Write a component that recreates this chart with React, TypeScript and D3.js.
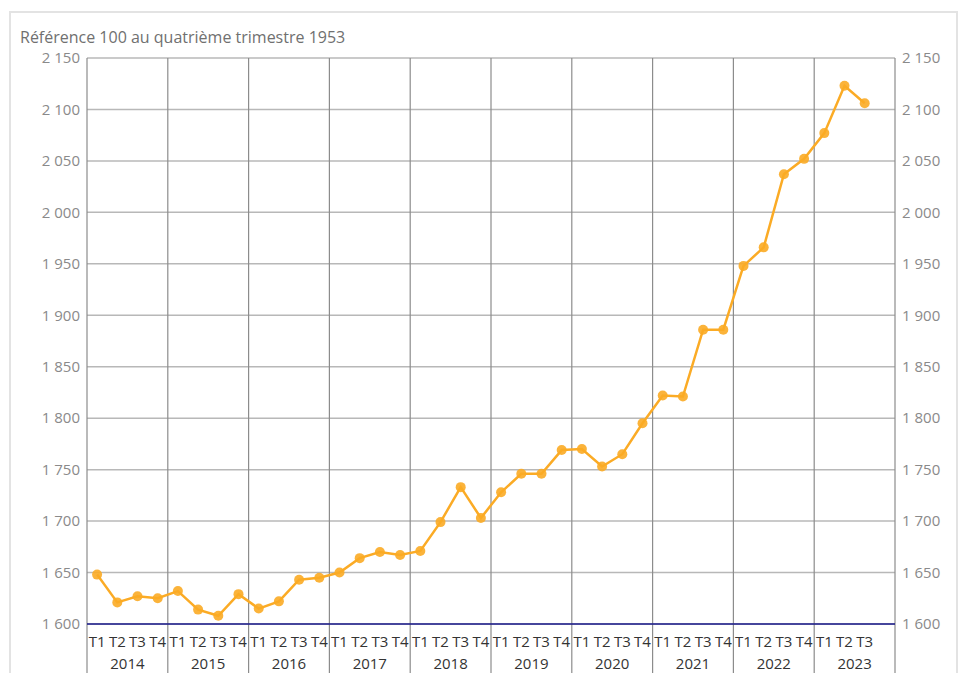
import React from 'react';
import * as d3 from 'd3';

// Data: ICC, base 100 at Q4 1953
const years = ['2014', '2015', '2016', '2017', '2018', '2019', '2020', '2021', '2022', '2023'];
const quarters = ['T1', 'T2', 'T3', 'T4'];
const values = [
  1648, 1621, 1627, 1625,
  1632, 1614, 1608, 1629,
  1615, 1622, 1643, 1645,
  1650, 1664, 1670, 1667,
  1671, 1699, 1733, 1703,
  1728, 1746, 1746, 1769,
  1770, 1753, 1765, 1795,
  1822, 1821, 1886, 1886,
  1948, 1966, 2037, 2052,
  2077, 2123, 2106,
];
const yTicks = [1600, 1650, 1700, 1750, 1800, 1850, 1900, 1950, 2000, 2050, 2100, 2150];
const title = 'Référence 100 au quatrième trimestre 1953';

const width = 959;
const height = 673;
const margin = { top: 58, right: 64, bottom: 49, left: 87 };
const font = '"Open Sans", "Noto Sans", sans-serif';
const lineColor = '#fbab25';

const fmt = (v: number) => d3.format(',')(v).replace(',', ' ');

const App: React.FC = () => {
  const slots = years.flatMap((yr) => quarters.map((q) => `${yr}-${q}`));
  const x = d3.scaleBand<string>()
    .domain(slots)
    .range([margin.left, width - margin.right]);
  const y = d3.scaleLinear()
    .domain([1600, 2150])
    .range([height - margin.bottom, margin.top]);

  const pts = values.map((v, i) => ({ key: slots[i], v }));
  const line = d3.line<{ key: string; v: number }>()
    .x((d) => (x(d.key) ?? 0) + x.bandwidth() / 2)
    .y((d) => y(d.v));

  const plotRight = width - margin.right;
  const plotBottom = height - margin.bottom;
  const yearW = x.bandwidth() * 4;

  return (
    <svg
      width={width}
      height={height}
      style={{ position: 'absolute', left: 0, top: 0 }}
      fontFamily={font}
    >
      <rect x={10} y={12} width={947} height={700} fill="#fff" stroke="#e3e3e3" strokeWidth={2} />
      <text x={20} y={43} fontSize={16} fill="#707070">{title}</text>

      {/* horizontal grid */}
      {yTicks.map((t) => (
        <g key={t}>
          <line x1={margin.left} x2={plotRight} y1={y(t)} y2={y(t)} stroke="#b8b8b8" strokeWidth={1.5} />
          <text x={80} y={y(t)} dy="0.35em" textAnchor="end" fontSize={15} fill="#8a8a8a">{fmt(t)}</text>
          <text x={902} y={y(t)} dy="0.35em" textAnchor="start" fontSize={15} fill="#8a8a8a">{fmt(t)}</text>
        </g>
      ))}

      {/* year separators */}
      {years.map((yr, i) => {
        const x0 = margin.left + i * yearW;
        return (
          <g key={yr}>
            <line x1={x0} x2={x0} y1={margin.top} y2={height} stroke="#8c8c8c" strokeWidth={1.2} />
            <text x={x0 + yearW / 2} y={669} textAnchor="middle" fontSize={15} fill="#333">{yr}</text>
          </g>
        );
      })}
      <line x1={plotRight} x2={plotRight} y1={margin.top} y2={height} stroke="#8c8c8c" strokeWidth={1.2} />

      {/* quarter labels */}
      {pts.map((d) => (
        <text
          key={d.key}
          x={(x(d.key) ?? 0) + x.bandwidth() / 2}
          y={647}
          textAnchor="middle"
          fontSize={15}
          fill="#333"
        >
          {d.key.split('-')[1]}
        </text>
      ))}

      {/* base line */}
      <line x1={margin.left} x2={plotRight} y1={plotBottom} y2={plotBottom} stroke="#1a1a8c" strokeWidth={1.5} />

      <path d={line(pts) ?? ''} fill="none" stroke={lineColor} strokeWidth={2.5} />
      {pts.map((d) => (
        <circle
          key={d.key}
          cx={(x(d.key) ?? 0) + x.bandwidth() / 2}
          cy={y(d.v)}
          r={5}
          fill={lineColor}
          fillOpacity={0.9}
        />
      ))}
    </svg>
  );
};

export default App;
